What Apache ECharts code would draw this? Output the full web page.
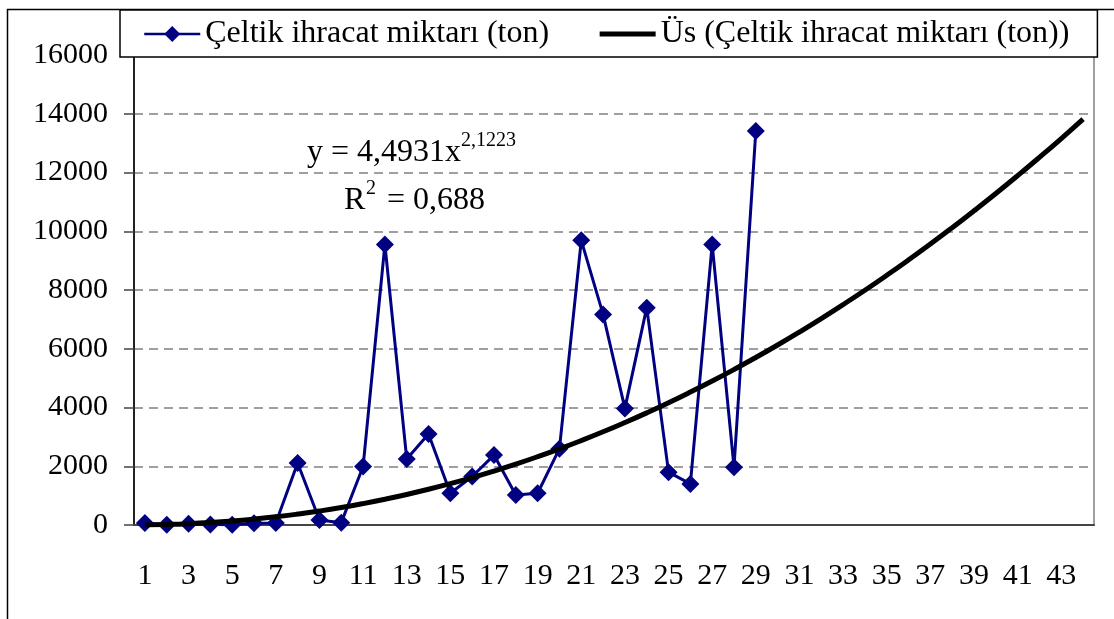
<!DOCTYPE html>
<html>
<head>
<meta charset="utf-8">
<script src="https://cdn.jsdelivr.net/npm/echarts@6/dist/echarts.min.js"></script>
<style>
  html, body { margin: 0; padding: 0; background: #fff; }
  #chart { width: 1114px; height: 619px; }
</style>
</head>
<body>
<div id="chart"></div>
<script>
// kategoriler (1..44)
var years = [];
for (var i = 1; i <= 44; i++) years.push(String(i));

// Çeltik ihracat miktarı (ton), 29 gözlem
var ihracat = [68, 10, 40, 15, 5, 58, 68, 2110, 170, 80,
  1990, 9550, 2250, 3100, 1080, 1650, 2380, 1020, 1080, 2600,
  9690, 7170, 3970, 7400, 1800, 1400, 9550, 1970, 13410];

// üs eğilim çizgisi
var trend = [4, 20, 46, 85, 137, 202, 279, 371, 476, 595,
  729, 877, 1039, 1216, 1408, 1614, 1836, 2073, 2325, 2592,
  2875, 3173, 3488, 3817, 4162, 4524, 4900, 5293, 5703, 6128,
  6570, 7028, 7503, 7993, 8500, 9024, 9564, 10122, 10696, 11285,
  11892, 12516, 13156, 13816];

var yTicks = [0, 2000, 4000, 6000, 8000, 10000, 12000, 14000, 16000];

var FONT = "'Liberation Serif', 'DejaVu Serif', serif";

var chart = echarts.init(document.getElementById("chart"));
var option = {
  animation: false,
  backgroundColor: "#fff",
  textStyle: { fontFamily: FONT },
  grid: {
    left: 134,
    right: 20,
    top: 55,
    bottom: 94,
    show: true,
    borderColor: "#808080",
    borderWidth: 1.5,
  },
  legend: {
    left: 120,
    top: 10,
    padding: [8, 28, 7, 23],
    itemGap: 48,
    itemWidth: 56,
    itemHeight: 20,
    backgroundColor: "#fff",
    borderColor: "#000",
    borderWidth: 1.5,
    textStyle: { fontFamily: FONT, fontSize: 32, color: "#000" },
    data: [
      { name: "Çeltik ihracat miktarı (ton)", lineStyle: { width: 2.5 } },
      {
        name: "Üs (Çeltik ihracat miktarı (ton))",
        itemStyle: { opacity: 0 },
        lineStyle: { width: 5 },
      },
    ],
  },
  xAxis: {
    type: "category",
    data: years,
    boundaryGap: true,
    axisLine: { lineStyle: { color: "#444", width: 2 } },
    axisTick: { interval: 0, length: 9, lineStyle: { color: "#444", width: 1.5 } },
    axisLabel: {
      interval: 1,
      margin: 36,
      fontFamily: FONT,
      fontSize: 30,
      color: "#000",
    },
  },
  yAxis: {
    type: "value",
    min: 0,
    max: yTicks[yTicks.length - 1],
    interval: 2000,
    axisLine: { show: true, lineStyle: { color: "#222", width: 2 } },
    axisTick: { show: true, length: 10, lineStyle: { color: "#444", width: 1.5 } },
    axisLabel: {
      margin: 26,
      fontFamily: FONT,
      fontSize: 30,
      color: "#000",
      formatter: function (v) { return String(v); },
    },
    splitLine: {
      show: true,
      lineStyle: { color: "#808080", width: 1.5, type: [9, 6] },
    },
  },
  series: [
    {
      name: "Çeltik ihracat miktarı (ton)",
      type: "line",
      data: ihracat,
      symbol: "diamond",
      symbolSize: 18,
      showAllSymbol: true,
      itemStyle: { color: "#000080" },
      lineStyle: { color: "#000080", width: 3 },
      z: 2,
    },
    {
      name: "Üs (Çeltik ihracat miktarı (ton))",
      type: "line",
      data: trend,
      symbol: "none",
      smooth: true,
      itemStyle: { color: "#000" },
      lineStyle: { color: "#000", width: 5 },
      z: 3,
    },
  ],
  graphic: [
    {
      type: "rect",
      left: 5,
      top: 7,
      shape: { width: 1140, height: 640 },
      style: { fill: "none", stroke: "#000", lineWidth: 1.5 },
      silent: true,
    },
    {
      type: "text",
      left: 307,
      top: 137,
      style: { text: "y = 4,4931x", font: "32px " + FONT, fill: "#000" },
    },
    {
      type: "text",
      left: 461,
      top: 131,
      style: { text: "2,1223", font: "20px " + FONT, fill: "#000" },
    },
    {
      type: "text",
      left: 344,
      top: 185,
      style: { text: "R", font: "32px " + FONT, fill: "#000" },
    },
    {
      type: "text",
      left: 366,
      top: 179,
      style: { text: "2", font: "20px " + FONT, fill: "#000" },
    },
    {
      type: "text",
      left: 379,
      top: 185,
      style: { text: " = 0,688", font: "32px " + FONT, fill: "#000" },
    },
  ],
};
chart.setOption(option);
</script>
</body>
</html>
